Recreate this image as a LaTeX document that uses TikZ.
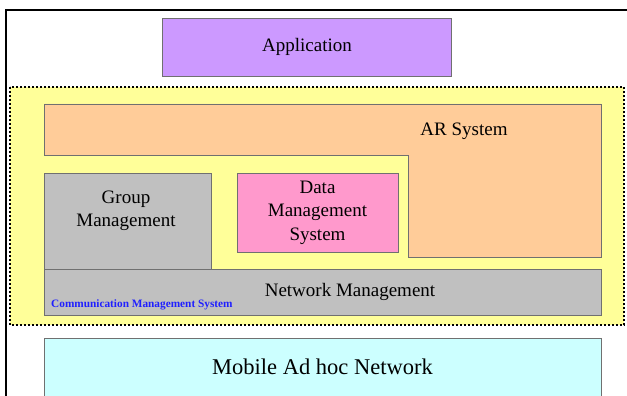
\documentclass[tikz,border=0pt]{standalone}
\usepackage{fontspec}
\setmainfont{Liberation Serif}
\definecolor{appc}{HTML}{CC99FF}
\definecolor{yelc}{HTML}{FFFF99}
\definecolor{arc}{HTML}{FFCC99}
\definecolor{grayc}{HTML}{C0C0C0}
\definecolor{pinkc}{HTML}{FF99CC}
\definecolor{cyanc}{HTML}{CCFFFF}
\definecolor{edgec}{HTML}{707070}
\definecolor{bluec}{HTML}{2020FF}
\tikzset{
  layer/.style={draw=edgec, line width=0.8pt, inner sep=0pt, align=center, font=\fontsize{19}{23.5}\selectfont},
  lbl/.style={inner sep=0pt, align=center, font=\fontsize{19}{23.5}\selectfont},
}
\begin{document}
\begin{tikzpicture}[x=1pt,y=-1pt]
\useasboundingbox (0,0) rectangle (627,396);
\clip (0,0) rectangle (627,396);
\fill[white] (0,0) rectangle (627,396);
% outer frame
\draw[line width=1.5pt] (6,10) rectangle (640,410);
% application
\node[layer, fill=appc, minimum width=289pt, minimum height=58pt] (app) at (307,47) {Application};
% dotted region
\draw[fill=yelc, line width=2.5pt, dash pattern=on 1.8pt off 2.2pt] (10,87) rectangle (624,325);
% AR system
\draw[draw=edgec, line width=0.8pt, fill=arc] (44,104) -- (601,104) -- (601,257) -- (408,257) -- (408,155) -- (44,155) -- cycle;
\node[lbl] (ar) at (464,131) {AR System};
% group management
\node[layer, fill=grayc, minimum width=167pt, minimum height=96pt] (grp) at (127.5,221) {};
\node[lbl] (grpt) at (126,211) {Group\\Management};
% data management
\node[layer, fill=pinkc, minimum width=161pt, minimum height=79pt] (dms) at (317.5,212.5) {Data\\Management\\System};
% network management
\node[layer, fill=grayc, minimum width=557pt, minimum height=46pt] (net) at (322.5,292.5) {};
\node[lbl] (nett) at (350,292) {Network Management};
\node[anchor=base west, inner sep=0pt, text=bluec, font=\fontsize{11.3}{13}\selectfont\bfseries] (cms) at (51,307) {Communication Management System};
% MANET
\node[layer, fill=cyanc, minimum width=557pt, minimum height=58pt, font=\fontsize{22.5}{26}\selectfont] (manet) at (322.5,367) {Mobile Ad hoc Network};
\end{tikzpicture}
\end{document}
